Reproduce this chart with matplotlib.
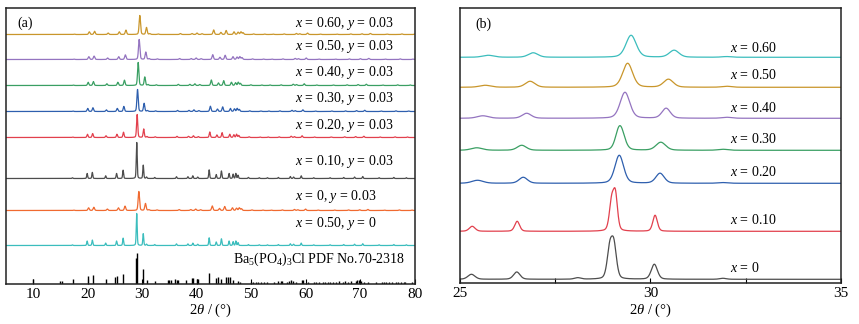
import numpy as np
import matplotlib
matplotlib.use("Agg")
import matplotlib.pyplot as plt

plt.rcParams['font.family'] = ['Liberation Serif', 'DejaVu Serif']
plt.rcParams['mathtext.fontset'] = 'custom'
plt.rcParams['mathtext.rm'] = 'Liberation Serif'
plt.rcParams['mathtext.it'] = 'Liberation Serif:italic'
plt.rcParams['font.size'] = 10

# ---------------- Panel (a) data ----------------
# base pattern (peak positions in 2theta, heights relative to main peak), read from x=0.10 trace
base_pos = [17.2, 19.9, 20.85, 23.3, 25.3, 26.5, 29.0, 30.2, 30.8, 32.3, 36.3, 38.4, 39.3, 40.2,
            42.3, 43.6, 44.55, 45.96, 46.7, 47.2, 47.6, 49.5, 51.5, 53.0, 55.0, 57.2, 57.8,
            59.2, 61.5, 64.5, 67.0, 69.0, 70.5, 73.5, 76.2, 78.5]
base_rel = [0.02, 0.14, 0.17, 0.075, 0.14, 0.23, 1.0, 0.37, 0.04, 0.03, 0.05, 0.05, 0.075, 0.04,
            0.24, 0.11, 0.21, 0.14, 0.12, 0.14, 0.09, 0.03, 0.022, 0.022, 0.03, 0.055, 0.04,
            0.075, 0.022, 0.022, 0.03, 0.04, 0.055, 0.022, 0.03, 0.022]

a_labels = ["$x$ = 0.60, $y$ = 0.03", "$x$ = 0.50, $y$ = 0.03", "$x$ = 0.40, $y$ = 0.03",
            "$x$ = 0.30, $y$ = 0.03", "$x$ = 0.20, $y$ = 0.03", "$x$ = 0.10, $y$ = 0.03",
            "$x$ = 0, $y$ = 0.03", "$x$ = 0.50, $y$ = 0"]
a_colors = ["#C9962B", "#9474C0", "#3A9F63", "#2E5FAE", "#E2404D", "#4D4D4D", "#F06A30", "#3BBDBD"]
a_offsets = [249, 224, 198, 172, 146, 105, 73, 38]          # baseline (px above axis bottom)
a_heights = [19, 20, 23, 22, 23, 36, 19, 32]                 # main peak height
a_mainpos = [29.57, 29.45, 29.27, 29.15, 29.08, 29.0, 29.39, 29.0]
a_fwhm = [0.3, 0.3, 0.28, 0.28, 0.25, 0.2, 0.3, 0.2]
a_label_y = [260, 237, 211, 185, 158, 122, 87, 60]

# PDF No.70-2318 sticks
pdf_pos = [10.0, 15.0, 15.3, 17.3, 20.0, 20.9, 23.3, 25.1, 25.3, 26.5, 28.9, 29.0, 30.2, 30.8,
           32.3, 34.8, 35.0, 35.3, 36.1, 36.4, 36.6, 38.0, 39.1, 39.4, 40.0, 40.3, 42.3, 43.5,
           44.0, 44.4, 45.4, 45.8, 46.2, 46.7, 47.6, 48.0, 50.0, 50.4, 50.9, 51.3, 51.8, 52.4,
           53.0, 54.2, 55.0, 55.4, 55.6, 56.5, 57.0, 57.4, 57.7, 58.2, 59.3, 59.6, 60.5, 61.5,
           62.0, 62.5, 63.2, 63.6, 64.1, 64.5, 65.0, 65.6, 66.2, 66.8, 67.3, 67.8, 68.3, 69.2,
           69.5, 69.8, 70.1, 70.8, 71.4, 73.0, 74.0, 74.4, 74.8, 75.3, 75.8, 76.6, 77.0, 77.5,
           78.0, 78.3, 79.5, 80.0]
pdf_int = [5, 2.7, 2.7, 4.3, 7.7, 8.3, 5, 6.7, 7.3, 9.3, 26, 31, 15, 3.3,
           2.7, 3.3, 3.3, 3.3, 4.3, 3.3, 3.3, 4, 5.7, 5.7, 5, 4.3, 10.7, 5.7,
           6.7, 5, 6.7, 6.7, 6.7, 4, 2.5, 2, 2, 1.5, 2, 1.5, 2, 1.5,
           2, 1.5, 3, 2.5, 3, 1.5, 2.5, 4, 3, 2, 3.5, 4, 2, 1.5,
           2, 1.5, 1.5, 2, 1.5, 2, 1.5, 2, 2.5, 1.5, 2.5, 2, 3, 3,
           4, 4, 2.5, 2, 1.5, 2, 1.5, 2, 2, 2, 1.5, 2, 2, 1.5,
           2, 1.5, 2, 1.5]

# ---------------- Panel (b) data ----------------
b_labels = ["$x$ = 0.60", "$x$ = 0.50", "$x$ = 0.40", "$x$ = 0.30", "$x$ = 0.20", "$x$ = 0.10", "$x$ = 0"]
b_colors = ["#3BBDBD", "#C9962B", "#9474C0", "#3A9F63", "#2E5FAE", "#E2404D", "#4D4D4D"]
b_offsets = [226, 196, 165, 133, 100, 52, 4]
b_label_y = [235, 208, 175, 144, 111, 63, 15]
b_peaks = [
    [(25.74, 2.0, 0.35), (26.92, 4.5, 0.3), (29.49, 22, 0.32), (30.62, 7, 0.3), (32.0, 0.7, 0.3)],
    [(25.66, 2.0, 0.35), (26.84, 6.0, 0.3), (29.40, 24, 0.31), (30.47, 8, 0.3), (32.0, 1.0, 0.3)],
    [(25.60, 2.5, 0.35), (26.75, 5.0, 0.28), (29.33, 26, 0.30), (30.41, 10, 0.26), (32.0, 1.0, 0.3)],
    [(25.44, 2.5, 0.35), (26.62, 5.0, 0.28), (29.16, 13, 0.22), (29.24, 14, 0.24), (30.27, 8, 0.3),
     (31.9, 1.0, 0.3)],
    [(25.46, 3.0, 0.35), (26.66, 6.0, 0.26), (29.18, 28, 0.27), (30.25, 10, 0.26), (31.9, 0.7, 0.3)],
    [(25.32, 5.0, 0.18), (26.50, 10, 0.15), (28.98, 29, 0.14), (29.08, 34, 0.13), (30.12, 16, 0.14)],
    [(25.30, 5.0, 0.22), (26.49, 7.3, 0.2), (28.09, 1.5, 0.2), (28.93, 29, 0.16), (29.04, 32, 0.16),
     (30.10, 15, 0.19), (31.9, 1.0, 0.2)],
]


def profile(x, peaks, eta=0.3):
    y = np.zeros_like(x)
    for p, h, w in peaks:
        g = np.exp(-4 * np.log(2) * ((x - p) / w) ** 2)
        l = 1.0 / (1.0 + 4 * ((x - p) / w) ** 2)
        y += h * ((1 - eta) * g + eta * l)
    return y


fig = plt.figure(figsize=(8.59, 3.24), dpi=100)
axA = fig.add_axes([6 / 859, 40.5 / 324, 408.5 / 859, 275.5 / 324])
axB = fig.add_axes([460 / 859, 40.7 / 324, 381 / 859, 275.3 / 324])

# Panel (a)
xa = np.linspace(5, 80, 8000)
for lab, col, off, h, mp, w, ly in zip(a_labels, a_colors, a_offsets, a_heights, a_mainpos, a_fwhm, a_label_y):
    peaks = [(p * mp / 29.0, h * r, w) for p, r in zip(base_pos, base_rel)]
    axA.plot(xa, off + profile(xa, peaks), color=col, lw=0.9)
    axA.text(58.1, ly, lab, ha='left', va='center')
axA.vlines(pdf_pos, 0, pdf_int, color='black', lw=1.0)
axA.text(46.7, 24, "Ba$_5$(PO$_4$)$_3$Cl PDF No.70-2318", ha='left', va='center')
axA.text(7.0, 260, "(a)", ha='left', va='center')
axA.set_xlim(5, 80)
axA.set_ylim(0, 275.5)
axA.set_xticks([10, 20, 30, 40, 50, 60, 70, 80])
axA.set_yticks([])
axA.tick_params(axis='x', direction='in', length=3.5, width=0.8, pad=3, labelsize=11)
axA.set_xlabel(r"2$\theta$ / (°)", labelpad=1, fontsize=10.5)

# Panel (b)
xb = np.linspace(25, 35, 4000)
for lab, col, off, pk, ly in zip(b_labels, b_colors, b_offsets, b_peaks, b_label_y):
    axB.plot(xb, off + profile(xb, pk), color=col, lw=0.9)
    axB.text(32.09, ly, lab, ha='left', va='center')
axB.text(25.4, 259, "(b)", ha='left', va='center')
axB.set_xlim(25, 35)
axB.set_ylim(0, 275.3)
axB.set_xticks([25, 30, 35])
axB.set_xticks([27.5, 32.5], minor=True)
axB.set_yticks([])
axB.tick_params(axis='x', which='both', direction='in', length=3.5, width=0.8, pad=3, labelsize=11)
axB.set_xlabel(r"2$\theta$ / (°)", labelpad=1, fontsize=10.5)

for ax in (axA, axB):
    for s in ax.spines.values():
        s.set_linewidth(1.1)
        s.set_color('#222222')

fig.savefig("out.png", dpi=100)
